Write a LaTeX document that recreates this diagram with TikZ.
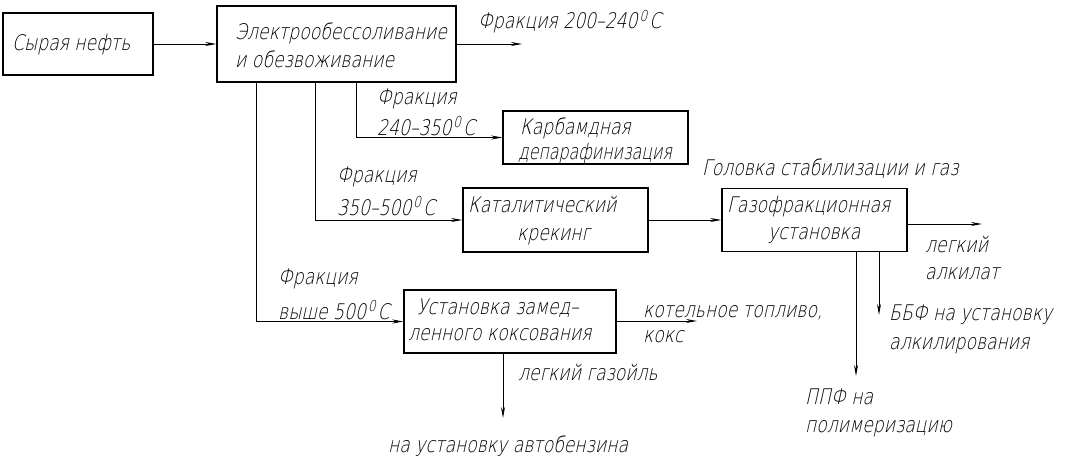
\documentclass[tikz,border=0pt]{standalone}
\usepackage{fontspec}
\setmainfont{DejaVuSans-ExtraLight.ttf}[FakeSlant=0.22, FakeStretch=0.8]
\usetikzlibrary{arrows.meta}
\newcommand{\degC}{\kern2pt\textsuperscript{0}\kern1.5pt C}
\begin{document}
\begin{tikzpicture}[x=1pt,y=-1pt,
  box/.style={draw, line width=1.5pt, inner sep=0pt},
  lbl/.style={anchor=base west, inner sep=0pt, font=\fontsize{21.5}{23}\selectfont},
  conn/.style={line width=0.9pt, -{Stealth[length=11pt,width=4pt]}}]
\fill[white] (0,0) rectangle (1090,460);
% boxes
\node[box, minimum width=150pt, minimum height=62pt] (crude) at (78,44) {};
\node[box, minimum width=239pt, minimum height=76pt] (edes) at (336.5,44) {};
\node[box, minimum width=185pt, minimum height=53pt] (karb) at (595.5,137.5) {};
\node[box, minimum width=185pt, minimum height=64pt] (kat) at (555.5,220) {};
\node[box, minimum width=185pt, minimum height=63pt] (gfu) at (814.5,220) {};
\node[box, minimum width=212pt, minimum height=63pt] (udk) at (510,321.5) {};
% box texts
\node[lbl] (t1) at (12,51) {Сырая нефть};
\node[lbl] (t2) at (235,40) {Электрообессоливание};
\node[lbl] (t3) at (235,67) {и обезвоживание};
\node[lbl] (t4) at (520,134) {Карбамдная};
\node[lbl] (t5) at (518,159) {\scalebox{0.92}[1]{депарафинизация}};
\node[lbl] (t6) at (468,212) {Каталитический};
\node[lbl] (t7) at (517,240) {крекинг};
\node[lbl] (t8) at (727,212) {Газофракционная};
\node[lbl] (t9) at (768,239) {установка};
\node[lbl] (t10) at (417,314) {Установка замед–};
\node[lbl] (t11) at (408,340) {ленного коксования};
% connectors
\coordinate (o1) at (522,44);
\coordinate (o2) at (982,224);
\coordinate (o3) at (856,376);
\coordinate (o4) at (879,315);
\coordinate (o5) at (697,321);
\coordinate (o6) at (503,418);
\draw[conn] (crude.east) -- (edes.west);
\draw[conn] (edes.east) -- (o1);
\draw[conn] ([xshift=140pt]edes.south west) |- (karb.west);
\draw[conn] ([xshift=99pt]edes.south west) |- (kat.west);
\draw[conn] ([xshift=40pt]edes.south west) |- (udk.west);
\draw[conn] (kat.east) -- (gfu.west);
\draw[conn] (gfu.east |- o2) -- (o2);
\draw[conn] (gfu.south -| o3) -- (o3);
\draw[conn] (gfu.south -| o4) -- (o4);
\draw[conn] (udk.east |- o5) -- (o5);
\draw[conn] (udk.south -| o6) -- (o6);
% labels
\node[lbl] (l1) at (478,29) {Фракция 200–240\degC};
\node[lbl] (l2) at (377,104) {Фракция};
\node[lbl] (l3) at (377,135) {240–350\degC};
\node[lbl] (l4) at (337,182) {Фракция};
\node[lbl] (l5) at (337,215) {350–500\degC};
\node[lbl] (l6) at (278,284) {Фракция};
\node[lbl] (l7) at (278,319) {выше 500\degC};
\node[lbl] (l8) at (643,317) {котельное топливо,};
\node[lbl] (l9) at (643,342) {кокс};
\node[lbl] (l10) at (518,380) {легкий газойль};
\node[lbl] (l11) at (388,452) {на установку автобензина};
\node[lbl] (l12) at (702,175) {Головка стабилизации и газ};
\node[lbl] (l13) at (925,252) {легкий};
\node[lbl] (l14) at (925,279) {алкилат};
\node[lbl] (l15) at (889,320) {ББФ на установку};
\node[lbl] (l16) at (889,349) {алкилирования};
\node[lbl] (l17) at (805,404) {ППФ на};
\node[lbl] (l18) at (805,432) {полимеризацию};
\end{tikzpicture}
\end{document}
